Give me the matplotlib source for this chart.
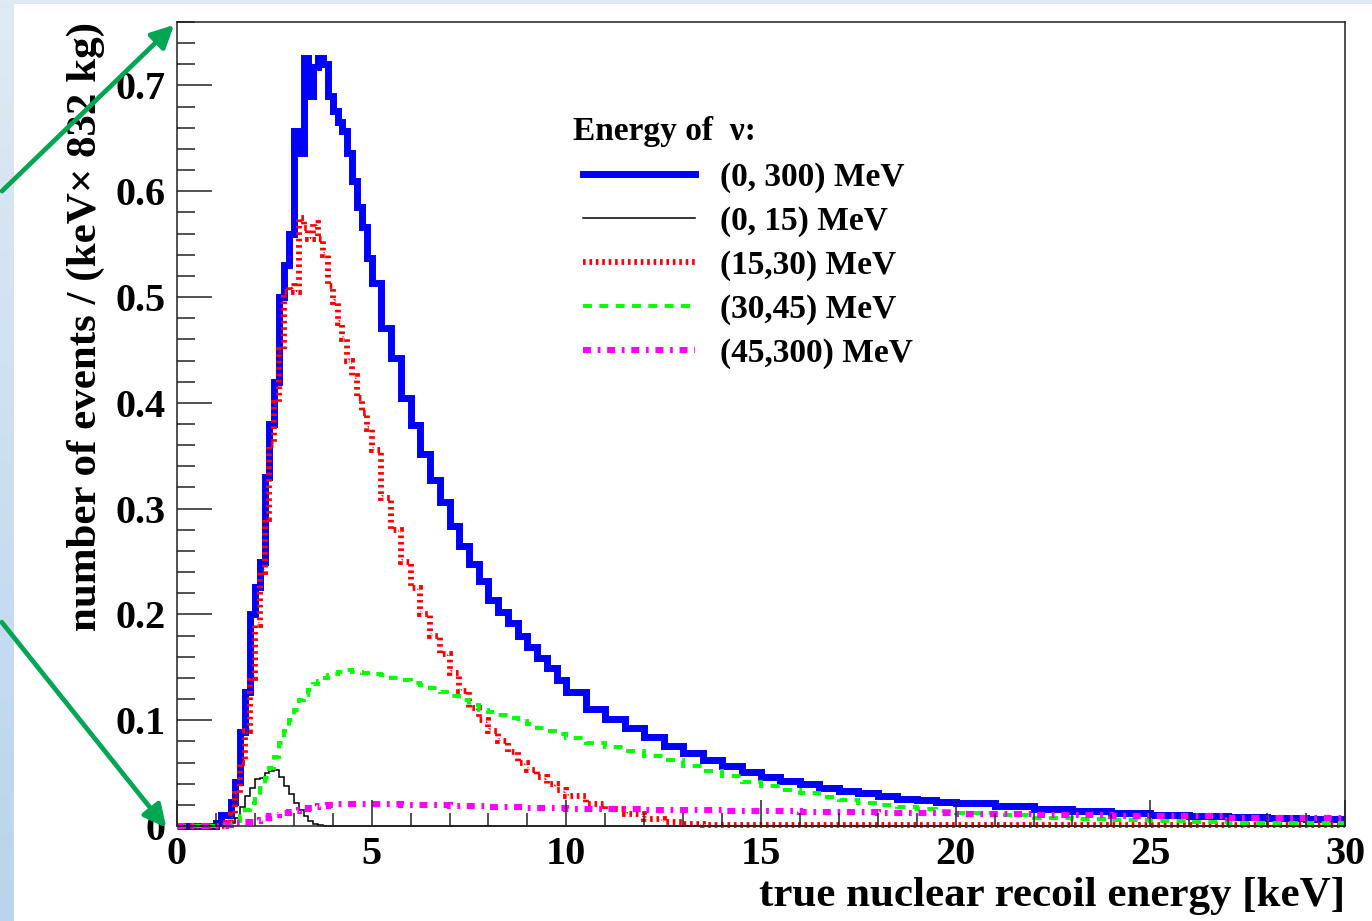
import numpy as np
import matplotlib
matplotlib.use("Agg")
import matplotlib.pyplot as plt
from matplotlib.ticker import MultipleLocator, FixedLocator, FixedFormatter
from matplotlib.patches import FancyArrowPatch

plt.rcParams.update({"font.family": ["Liberation Serif", "DejaVu Serif"],
                     "font.weight": "bold", "axes.labelweight": "bold",
                     "mathtext.default": "regular"})

# bin edges (keV): 0.125 up to 5, 0.25 up to 10, 0.5 up to 20, 1 up to 30
EDGES = np.concatenate([np.arange(0, 5, 0.125), np.arange(5, 10, 0.25),
                        np.arange(10, 20, 0.5), np.arange(20, 30.5, 1.0)])

ALL = [0, 0, 0, 0, 0, 0, 0, 0,
       0.003, 0.010, 0.010, 0.023, 0.042, 0.089, 0.127, 0.200, 0.226, 0.250,
       0.330, 0.380, 0.420, 0.500, 0.530, 0.560, 0.657, 0.636, 0.726, 0.690,
       0.717, 0.726, 0.720, 0.690, 0.676, 0.665, 0.657, 0.636, 0.610, 0.585,
       0.566, 0.537,
       0.513, 0.471, 0.442, 0.405, 0.379, 0.352, 0.327, 0.306, 0.284, 0.265,
       0.248, 0.232, 0.214, 0.202, 0.192, 0.180, 0.169, 0.159, 0.149, 0.138,
       0.127, 0.111, 0.1015, 0.0923, 0.0838, 0.0759, 0.0687, 0.062, 0.0564, 0.051,
       0.0466, 0.0428, 0.0394, 0.0362, 0.0334, 0.0309, 0.0283, 0.0258, 0.0243, 0.0228,
       0.0214, 0.0185, 0.016, 0.0138, 0.012, 0.0105, 0.0093, 0.0083, 0.0075, 0.0068]

LOW = [0, 0, 0, 0, 0, 0, 0, 0,
       0, 0, 0.001, 0.003, 0.008, 0.018, 0.028, 0.036, 0.044, 0.045,
       0.050, 0.052, 0.053, 0.046, 0.038, 0.030, 0.022, 0.015, 0.009, 0.005,
       0.002, 0.0005, 0, 0, 0, 0, 0, 0, 0, 0, 0, 0] + [0] * 50

MID = [0, 0, 0, 0, 0, 0, 0, 0,
       0, 0, 0.003, 0.010, 0.030, 0.060, 0.090, 0.140, 0.190, 0.240,
       0.290, 0.360, 0.400, 0.450, 0.505, 0.510, 0.505, 0.575, 0.565, 0.555,
       0.570, 0.555, 0.540, 0.510, 0.495, 0.475, 0.460, 0.440, 0.425, 0.405,
       0.390, 0.375,
       0.355, 0.310, 0.280, 0.250, 0.225, 0.200, 0.180, 0.163, 0.145, 0.128,
       0.112, 0.100, 0.090, 0.080, 0.070, 0.060, 0.053, 0.046, 0.040, 0.034,
       0.028, 0.021, 0.016, 0.011, 0.007, 0.004, 0.002, 0.0012, 0.001, 0.001,
       0.001, 0.001, 0.001, 0.001, 0.001, 0.001, 0.001, 0.001, 0.001, 0.001,
       0.001, 0.001, 0.001, 0.001, 0.001, 0.001, 0.001, 0.001, 0.001, 0.001]

HIGH = [0, 0, 0, 0, 0, 0, 0, 0,
        0, 0, 0.001, 0.003, 0.005, 0.009, 0.015, 0.022, 0.029, 0.036,
        0.045, 0.055, 0.065, 0.078, 0.090, 0.100, 0.110, 0.119, 0.124, 0.129,
        0.134, 0.137, 0.140, 0.143, 0.144, 0.146, 0.146, 0.147, 0.146, 0.146,
        0.145, 0.145,
        0.144, 0.143, 0.140, 0.138, 0.135, 0.133, 0.130, 0.127, 0.123, 0.119,
        0.114, 0.110, 0.108, 0.105, 0.102, 0.099, 0.096, 0.093, 0.090, 0.087,
        0.083, 0.078, 0.075, 0.071, 0.066, 0.062, 0.057, 0.052, 0.047, 0.042,
        0.038, 0.034, 0.031, 0.027, 0.025, 0.022, 0.020, 0.018, 0.016, 0.014,
        0.012, 0.010, 0.008, 0.007, 0.0055, 0.0045, 0.0038, 0.003, 0.0027, 0.0025]

TOP = [0, 0, 0, 0, 0, 0, 0, 0,
       0, 0, 0.001, 0.002, 0.003, 0.003, 0.004, 0.004, 0.005, 0.006,
       0.008, 0.009, 0.010, 0.011, 0.012, 0.013, 0.014, 0.015, 0.016, 0.017,
       0.018, 0.019, 0.019, 0.020, 0.020, 0.021, 0.021, 0.021, 0.021, 0.021,
       0.021, 0.021,
       0.021, 0.021, 0.021, 0.020, 0.020, 0.020, 0.020, 0.020, 0.019, 0.019,
       0.019, 0.019, 0.018, 0.018, 0.018, 0.018, 0.017, 0.017, 0.017, 0.017,
       0.016, 0.016, 0.016, 0.016, 0.015, 0.015, 0.015, 0.015, 0.014, 0.014,
       0.014, 0.014, 0.013, 0.013, 0.013, 0.013, 0.012, 0.012, 0.012, 0.012,
       0.011, 0.011, 0.010, 0.010, 0.009, 0.009, 0.009, 0.008, 0.008, 0.008]

LABELS = ["(0, 300) MeV", "(0, 15) MeV", "(15,30) MeV", "(30,45) MeV", "(45,300) MeV"]
YTICKS = [0, 0.1, 0.2, 0.3, 0.4, 0.5, 0.6, 0.7]
YTICKLABELS = ["0", "0.1", "0.2", "0.3", "0.4", "0.5", "0.6", "0.7"]

W, H = 1372, 921
fig = plt.figure(figsize=(W / 100, H / 100), dpi=100)

# slide background: blue-ish strip on the left and top
bg = fig.add_axes([0, 0, 1, 1], zorder=-10)
grad = np.linspace(0, 1, 256)[:, None]
bg.imshow(grad, cmap=matplotlib.colors.LinearSegmentedColormap.from_list(
    "bg", ["#dfeaf5", "#b9d4ec"]), aspect="auto", extent=[0, 1, 0, 1])
bg.add_patch(plt.Rectangle((14 / W, 0), 1, 1 - 4 / H, color="white", lw=0))
bg.set_xlim(0, 1); bg.set_ylim(0, 1); bg.axis("off")

ax = fig.add_axes([177 / W, 1 - 826 / H, 1168 / W, 804 / H])
styles = [
    (ALL, dict(color="#0000ff", lw=5.0)),
    (LOW, dict(color="black", lw=1.1)),
    (MID, dict(color="#ff0000", lw=4.2, ls=(0, (0.45, 0.65)))),
    (HIGH, dict(color="#00ff00", lw=2.8, ls=(0, (2.3, 1.9)))),
    (TOP, dict(color="#ff00ff", lw=4.4, ls=(0, (1.3, 1.1, 0.45, 1.1)))),
]
handles = []
for vals, kw in styles:
    ax.stairs(vals, EDGES, baseline=None, joinstyle="miter", clip_on=False, **kw)
    handles.append(plt.Line2D([], [], **kw))

ax.set_xlim(0, 30)
ax.set_ylim(0, 0.76)
ax.xaxis.set_major_locator(MultipleLocator(5))
ax.xaxis.set_minor_locator(MultipleLocator(1))
ax.xaxis.set_major_formatter(plt.FuncFormatter(lambda v, p: f"{v:g}"))
ax.yaxis.set_major_locator(FixedLocator(YTICKS))
ax.yaxis.set_major_formatter(FixedFormatter(YTICKLABELS))
ax.yaxis.set_minor_locator(MultipleLocator(0.02))
ax.tick_params(direction="in", which="both", top=False, right=False,
               width=1.1, labelsize=29, color="#222222")
ax.tick_params(axis="x", which="major", length=19, pad=7)
ax.tick_params(axis="x", which="minor", length=9.5)
ax.tick_params(axis="y", which="major", length=25, pad=8)
ax.tick_params(axis="y", which="minor", length=13)
for s in ax.spines.values():
    s.set_linewidth(1.1)
    s.set_color("#222222")

ax.set_xlabel("true nuclear recoil energy [keV]", fontsize=31, loc="right",
              labelpad=3)
ax.set_ylabel("number of events / (keV× 832 kg)", fontsize=31, loc="top",
              labelpad=8)

ax.legend(handles, LABELS, loc="upper left", bbox_to_anchor=(0.3476, 0.826),
          frameon=False, fontsize=24, handlelength=3.35, handletextpad=0.75,
          labelspacing=0.38, borderpad=0, borderaxespad=0)
ax.text((573 - 177) / 1168, (826 - 132) / 804, "Energy of  ν:", fontsize=24,
        transform=ax.transAxes, ha="left", va="center")

# green arrows of the slide, pointing at the axis corners
for (x0, y0), (x1, y1) in [((0, 193), (176, 23)), ((0, 620), (168, 830))]:
    arr = FancyArrowPatch((x0 / W, 1 - y0 / H), (x1 / W, 1 - y1 / H),
                          transform=fig.transFigure, arrowstyle="-|>",
                          mutation_scale=34, color="#00a651", lw=3.4)
    fig.add_artist(arr)

fig.savefig("out.png", dpi=100)
